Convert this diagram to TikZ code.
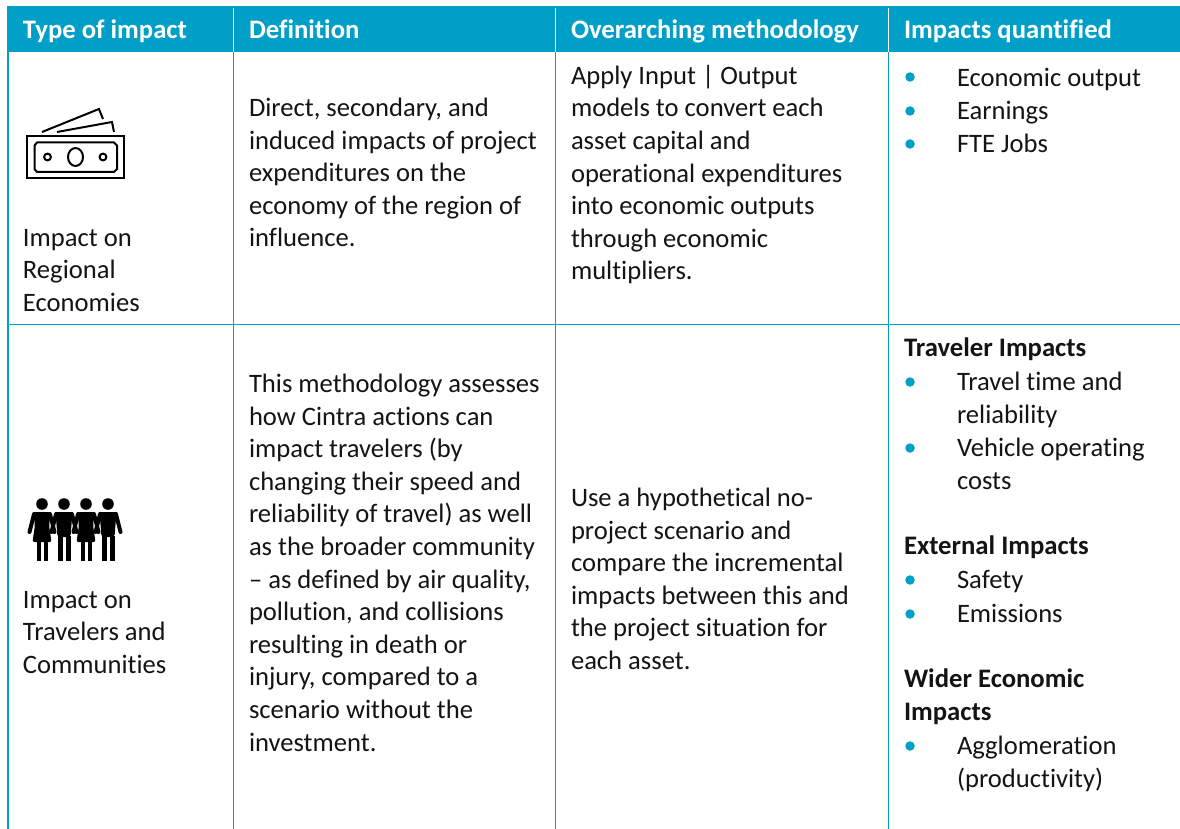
\documentclass[tikz,border=0pt]{standalone}
\usepackage{fontspec}
\setmainfont[Ligatures=NoCommon]{Carlito}
\definecolor{tblblue}{HTML}{009FC7}
\tikzset{
  x=1pt,y=-1pt,
  cell/.style={anchor=north west,inner sep=0pt,outer sep=0pt,align=left,text=black!92,font=\fontsize{26.6}{32.6}\selectfont},
  head/.style={anchor=base west,inner sep=0pt,outer sep=0pt,text=white,font=\fontsize{26.7}{30}\selectfont\bfseries},
  boldcell/.style={cell,font=\fontsize{26.7}{32.9}\selectfont\bfseries},
  blt/.style={circle,fill=tblblue,draw=none,minimum size=9.5pt,inner sep=0pt},
  rule/.style={draw=tblblue,line width=1pt},
  ink/.style={draw=black,line width=2pt},
  limb/.style={draw=black,line width=4pt,line cap=round},
}
\newcommand{\womanfig}[1]{%
  \fill (#1,504) circle (5.8);
  \fill[rounded corners=2pt] (#1-9,512) -- (#1+9,512) -- (#1+7,525) -- (#1+9.5,542) -- (#1-9.5,542) -- (#1-7,525) -- cycle;
  \fill (#1-5.5,541) rectangle (#1-0.7,561);
  \fill (#1+1.5,541) rectangle (#1+6.3,561);
  \draw[limb] (#1-8,514) -- (#1-12.5,532);
  \draw[limb] (#1+8,514) -- (#1+12.5,532);
}
\newcommand{\manfig}[1]{%
  \fill (#1,504) circle (5.8);
  \fill[rounded corners=2pt] (#1-8.5,512) -- (#1+8.5,512) -- (#1+6.5,537) -- (#1-6.5,537) -- cycle;
  \fill (#1-5.7,536) rectangle (#1-0.7,561);
  \fill (#1+1.7,536) rectangle (#1+6.7,561);
  \draw[limb] (#1-8,514) -- (#1-12.5,532);
  \draw[limb] (#1+8,514) -- (#1+12.5,532);
}
\begin{document}
\begin{tikzpicture}
\useasboundingbox (0,0) rectangle (1180,829);
\fill[white] (0,0) rectangle (1180,829);
% header band
\fill[tblblue] (7,6) rectangle (1180,52);
% rules
\draw[draw=tblblue,line width=2pt] (8,52) -- (8,829);
\foreach \c in {233.5,555.5,888.5}{
  \draw[draw=white,line width=1pt] (\c,8) -- (\c,52);
  \draw[rule] (\c,52) -- (\c,829);
}
\draw[rule] (8,324.5) -- (1180,324.5);
% header
\node[head] (h1) at (23,39) {Type of impact};
\node[head] (h2) at (249,39) {Definition};
\node[head] (h3) at (571,39) {Overarching methodology};
\node[head] (h4) at (904,39) {Impacts quantified};
% money icon
\draw[ink] (27,136) rectangle (123.5,178.5);
\draw[ink] (37,142.5) -- (114,142.5) -- (117,145.5) -- (117,169) -- (114,172) -- (37,172) -- (34.5,169) -- (34.5,145.5) -- cycle;
\draw[ink] (47.5,157) circle (3.4);
\draw[ink] (103,157) circle (3.4);
\draw[ink] (75.5,157) ellipse (7.5 and 9);
\draw[ink] (42,132) -- (99,109) -- (103,119);
\draw[ink] (57,132) -- (112,122) -- (114,132);
% people icon
\womanfig{42}
\manfig{64}
\womanfig{86}
\manfig{108}
% row 1
\node[cell] (r1a) at (23,229) {Impact on\\Regional\\Economies};
\node[cell] (r1b) at (249,98) {Direct, secondary, and\\induced impacts of project\\expenditures on the\\economy of the region of\\influence.};
\node[cell] (r1c) at (571,65) {Apply Input | Output\\models to convert each\\asset capital and\\operational expenditures\\into economic outputs\\through economic\\multipliers.};
\node[blt] (b1) at (910,77) {};
\node[blt] (b2) at (910,111) {};
\node[blt] (b3) at (910,144) {};
\node[cell] (t1) at (957,68) {Economic output};
\node[cell] (t2) at (957,101) {Earnings};
\node[cell] (t3) at (957,134) {FTE Jobs};
% row 2
\node[cell] (r2a) at (23,591) {Impact on\\Travelers and\\Communities};
\node[cell] (r2b) at (249,374) {This methodology assesses\\how Cintra actions can\\impact travelers (by\\changing their speed and\\reliability of travel) as well\\as the broader community\\– as defined by air quality,\\pollution, and collisions\\resulting in death or\\injury, compared to a\\scenario without the\\investment.};
\node[cell] (r2c) at (571,488) {Use a hypothetical no-\\project scenario and\\compare the incremental\\impacts between this and\\the project situation for\\each asset.};
\node[boldcell] (g1) at (904,338) {Traveler Impacts};
\node[blt] (b4) at (910,382) {};
\node[cell] (t4) at (957,372) {Travel time and\\reliability};
\node[blt] (b5) at (910,448) {};
\node[cell] (t5) at (957,438) {Vehicle operating\\costs};
\node[boldcell] (g2) at (904,536) {External Impacts};
\node[blt] (b6) at (910,580) {};
\node[cell] (t6) at (957,570) {Safety};
\node[blt] (b7) at (910,614) {};
\node[cell] (t7) at (957,604) {Emissions};
\node[boldcell] (g3) at (904,669) {Wider Economic\\Impacts};
\node[blt] (b8) at (910,746) {};
\node[cell] (t8) at (957,736) {Agglomeration\\(productivity)};
\end{tikzpicture}
\end{document}
